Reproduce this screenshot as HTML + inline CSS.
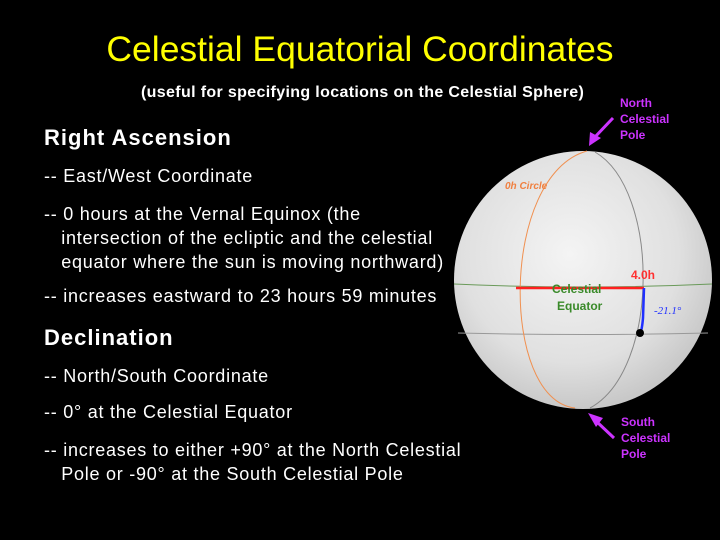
<!DOCTYPE html>
<html><head><meta charset="utf-8"><style>
body{margin:0;background:#000;width:720px;height:540px;overflow:hidden;position:relative;font-family:"Liberation Sans",Arial,sans-serif;color:#fff}
.t{position:absolute;white-space:nowrap}
.b{font-size:18px;letter-spacing:0.75px}
</style></head><body>
<div class="t" style="left:0;width:720px;text-align:center;top:29px;font-size:35.5px;color:#ffff00">Celestial Equatorial Coordinates</div>
<div class="t" style="left:141px;top:84px;font-size:16px;font-weight:bold;letter-spacing:0.35px">(useful for specifying locations on the Celestial Sphere)</div>
<div class="t" style="left:44px;top:125px;font-size:22px;font-weight:bold;letter-spacing:1px">Right Ascension</div>
<div class="t b" style="left:44px;top:166px">-- East/West Coordinate</div>
<div class="t b" style="left:44px;top:202px;line-height:24px">-- 0 hours at the Vernal Equinox (the<br>&nbsp;&nbsp;&nbsp;intersection of the ecliptic and the celestial<br>&nbsp;&nbsp;&nbsp;equator where the sun is moving northward)</div>
<div class="t b" style="left:44px;top:286px">-- increases eastward to 23 hours 59 minutes</div>
<div class="t" style="left:44px;top:325px;font-size:22px;font-weight:bold;letter-spacing:1px">Declination</div>
<div class="t b" style="left:44px;top:366px">-- North/South Coordinate</div>
<div class="t b" style="left:44px;top:402px">-- 0° at the Celestial Equator</div>
<div class="t b" style="left:44px;top:438px;line-height:24px">-- increases to either +90° at the North Celestial<br>&nbsp;&nbsp;&nbsp;Pole or -90° at the South Celestial Pole</div>
<svg width="720" height="540" style="position:absolute;left:0;top:0">
<defs><radialGradient id="g" cx="0.45" cy="0.4" r="0.6"><stop offset="0" stop-color="#f4f4f4"/><stop offset="0.7" stop-color="#e0e0e0"/><stop offset="1" stop-color="#c8c8c8"/></radialGradient></defs>
<circle cx="583" cy="280" r="129" fill="url(#g)"/>
<path d="M454 284 Q583 290 712 284" stroke="#6a9a5a" fill="none" stroke-width="1"/>
<path d="M458 333 Q583 336 708 333" stroke="#999" fill="none" stroke-width="1"/>
<path d="M587 151 C500 175 500 400 575 408" stroke="#f09050" fill="none" stroke-width="1"/>
<path d="M595 152 C660 190 660 370 590 408" stroke="#888" fill="none" stroke-width="1"/>
<line x1="516" y1="288" x2="644" y2="288" stroke="#ff2020" stroke-width="2.5"/>
<path d="M644 288 L643 318 Q642 330 640 334" stroke="#2030ff" fill="none" stroke-width="2.5"/>
<circle cx="640" cy="333" r="4" fill="#000"/>
<text x="505" y="189" fill="#f08040" font-size="10" font-style="italic" font-weight="bold">0h Circle</text>
<text x="552" y="293" fill="#3a8a2a" font-size="12" font-weight="bold">Celestial</text>
<text x="557" y="310" fill="#3a8a2a" font-size="12" font-weight="bold">Equator</text>
<text x="631" y="279" fill="#ff3030" font-size="12" font-weight="bold">4.0h</text>
<text x="654" y="314" fill="#2030ff" font-size="11" font-style="italic" font-family="Liberation Serif">-21.1°</text>
<g fill="#cc33ff" font-size="12" font-weight="bold">
<text x="620" y="107">North</text><text x="620" y="123">Celestial</text><text x="620" y="139">Pole</text>
<text x="621" y="426">South</text><text x="621" y="442">Celestial</text><text x="621" y="458">Pole</text>
</g>
<g stroke="#cc33ff" stroke-width="3" fill="#cc33ff">
<line x1="613" y1="118" x2="594" y2="138"/><polygon points="589,146 590,132 601,138" stroke="none"/>
<line x1="614" y1="438" x2="596" y2="421"/><polygon points="588,413 603,418 596,427" stroke="none"/>
</g>
</svg>
</body></html>
